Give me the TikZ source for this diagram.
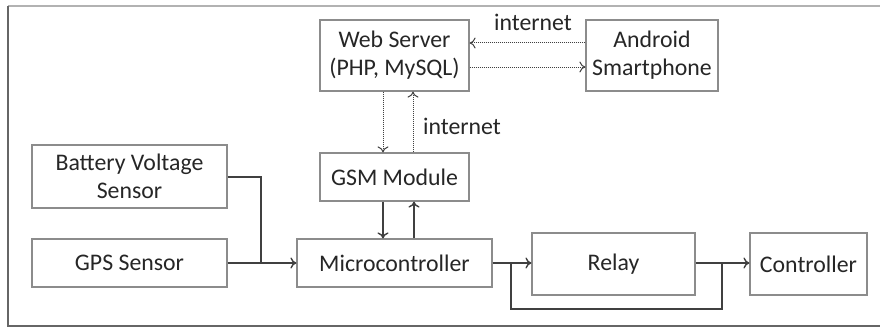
\documentclass[tikz,border=0pt]{standalone}
\usepackage{fontspec}
\setmainfont{Carlito}
\usetikzlibrary{arrows.meta}
\definecolor{boxline}{HTML}{8C8C8C}
\definecolor{wire}{HTML}{404040}
\definecolor{txt}{HTML}{262626}
\tikzset{
  block/.style={draw=boxline, line width=1.2pt, fill=white, text=txt,
    align=center, inner sep=0pt, font=\fontsize{23.8}{28}\selectfont},
  link/.style={draw=wire, line width=1.4pt, -{To[length=6pt,width=11pt]}},
  plainlink/.style={draw=wire, line width=1.4pt},
  netlink/.style={draw=wire, line width=1pt, dash pattern=on 1pt off 1pt,
    -{To[length=6pt,width=11pt]}},
  lbl/.style={text=txt, inner sep=0pt, font=\fontsize{23.8}{28}\selectfont}
}
\begin{document}
\begin{tikzpicture}[x=1pt,y=-1pt]
\useasboundingbox (0,0) rectangle (880,329);
% frame
\draw[line width=1.2pt, draw=black!30] (8,6) -- (880,6);
\draw[line width=1.4pt, draw=black!60] (8,6) -- (8,326) -- (880,326);

% blocks
\node[block, minimum width=149pt, minimum height=71pt] (web) at (394.5,55.5) {Web Server\\(PHP, MySQL)};
\node[block, minimum width=132pt, minimum height=71pt] (android) at (652,55.5) {Android\\Smartphone};
\node[block, minimum width=149pt, minimum height=48pt] (gsm) at (394.5,177) {GSM Module};
\node[block, minimum width=195pt, minimum height=63pt] (battery) at (129.5,176.5) {Battery Voltage\\Sensor};
\node[block, minimum width=195pt, minimum height=48pt] (gps) at (129.5,263) {GPS Sensor};
\node[block, minimum width=195pt, minimum height=48pt] (micro) at (394.5,263) {Microcontroller};
\node[block, minimum width=163pt, minimum height=62pt] (relay) at (613.5,264) {Relay};
\node[block, minimum width=117pt, minimum height=62pt] (ctrl) at (808.5,264) {Controller};

% labels
\node[lbl] (net1) at (533,22) {internet};
\node[lbl] (net2) at (462,126) {internet};

% internet links
\draw[netlink] (android.west |- 0,43) -- (web.east |- 0,43);
\draw[netlink] (web.east |- 0,67) -- (android.west |- 0,67);
\draw[netlink] (web.south -| 383,0) -- (gsm.north -| 383,0);
\draw[netlink] (gsm.north -| 413,0) -- (web.south -| 413,0);

% GSM <-> microcontroller
\draw[link] (gsm.south -| 383,0) -- (micro.north -| 383,0);
\draw[link] (micro.north -| 414,0) -- (gsm.south -| 414,0);

% sensors into microcontroller
\coordinate (join) at (261,263);
\draw[plainlink] (battery.east |- 0,177) -| (join);
\draw[link] (gps.east) -- (micro.west);

% microcontroller -> relay -> controller, with bypass
\coordinate (splitA) at (511,263);
\coordinate (splitB) at (722,263);
\draw[link] (micro.east) -- (relay.west |- micro.east);
\draw[link] (relay.east |- micro.east) -- (ctrl.west |- micro.east);
\draw[plainlink] (splitA) -- (511,309) -- (722,309) -- (splitB);
\end{tikzpicture}
\end{document}
